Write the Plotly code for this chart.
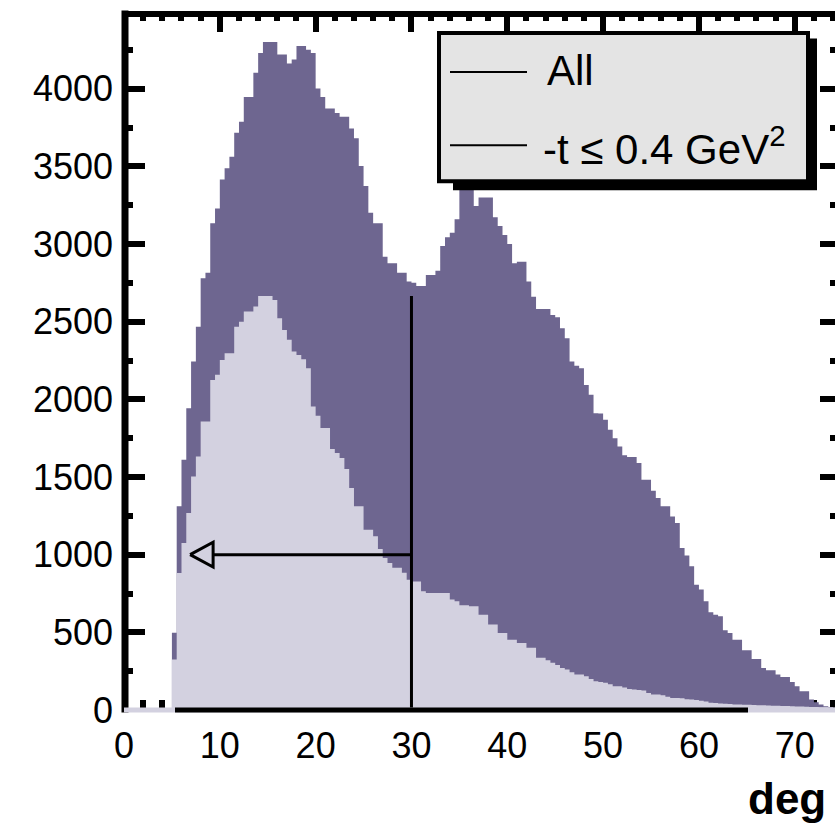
import plotly.graph_objects as go

# ---------------- data (0.5 degree bins starting at 0) ----------------
BIN_WIDTH = 0.5

all_counts = [
    0, 0, 0, 0, 0, 0, 0, 0, 0, 0,
    498, 1311, 1611, 1943, 2243, 2468, 2779, 2815, 3133, 3229,
    3416, 3487, 3561, 3716, 3787, 3947, 3947, 4102, 4230, 4301,
    4301, 4301, 4220, 4220, 4162, 4188, 4275, 4275, 4250, 4230,
    4001, 3947, 3872, 3872, 3844, 3819, 3819, 3744, 3680, 3502,
    3373, 3201, 3133, 3133, 2918, 2876, 2876, 2815, 2815, 2758,
    2751, 2730, 2730, 2801, 2801, 2828, 2987, 3043, 3073, 3159,
    3380, 3420, 3420, 3244, 3300, 3300, 3300, 3172, 3116, 3058,
    3000, 2876, 2886, 2886, 2758, 2661, 2582, 2582, 2582, 2543,
    2529, 2458, 2394, 2243, 2217, 2200, 2093, 2029, 1911, 1909,
    1868, 1804, 1750, 1697, 1640, 1628, 1628, 1590, 1482, 1482,
    1412, 1365, 1311, 1311, 1246, 1204, 1043, 994, 925, 807,
    775, 700, 629, 614, 604, 513, 496, 453, 453, 385,
    385, 329, 329, 271, 256, 256, 228, 213, 213, 180,
    153, 121, 121, 68, 50, 35, 24, 20, 15, 10,
]

low_t_counts = [
    0, 0, 0, 0, 0, 0, 0, 0, 0, 0,
    325, 882, 1075, 1268, 1504, 1632, 1857, 1857, 2125, 2158,
    2254, 2297, 2297, 2468, 2500, 2565, 2565, 2597, 2666, 2666,
    2666, 2640, 2522, 2447, 2383, 2308, 2286, 2258, 2200, 1954,
    1894, 1815, 1815, 1680, 1654, 1622, 1551, 1429, 1311, 1311,
    1161, 1161, 1118, 1037, 979, 947, 915, 915, 883, 839,
    828, 828, 764, 753, 753, 753, 753, 753, 711, 700,
    675, 675, 668, 668, 614, 614, 550, 550, 496, 496,
    453, 453, 432, 432, 400, 400, 336, 336, 320, 304,
    290, 271, 260, 243, 228, 228, 218, 200, 185, 180,
    175, 165, 153, 153, 145, 135, 132, 128, 125, 110,
    100, 100, 95, 85, 78, 78, 75, 70, 68, 65,
    60, 55, 46, 45, 42, 40, 38, 36, 35, 34,
    33, 32, 31, 30, 29, 28, 27, 26, 25, 24,
    23, 22, 21, 20, 19, 18, 17, 16, 15, 14,
]

x_tick_vals = [0, 10, 20, 30, 40, 50, 60, 70]
y_tick_vals = [0, 500, 1000, 1500, 2000, 2500, 3000, 3500, 4000]
legend_labels = ["All", "-t \u2264 0.4 GeV<sup>2</sup>"]
x_label = "deg"

cut_angle = 30          # vertical cut line
cut_line_top = 2665
arrow_level = 1000
arrow_tip = 6.9
arrow_base = 9.3
arrow_half = 80

X_RANGE = [0, 74.2]
Y_RANGE = [0, 4500]

DARK = "#6e6690"
LIGHT = "#d3d1e0"
FONT = "Liberation Sans, Arial, sans-serif"

# ---------------- figure geometry (pixels) ----------------
W, H = 835, 825
L, T, B, R = 124, 10.5, 114.5, 0
PW, PH = W - L - R, H - T - B


def px(xp):
    return (xp - L) / PW


def py(yp):
    return (H - B - yp) / PH


edges = [i * BIN_WIDTH for i in range(len(all_counts) + 1)]

fig = go.Figure()
fig.add_trace(go.Scatter(
    x=edges, y=all_counts + [all_counts[-1]], mode="lines",
    line=dict(shape="hv", width=0, color=DARK), fill="tozeroy",
    fillcolor=DARK, hoverinfo="skip", name="All"))
fig.add_trace(go.Scatter(
    x=edges, y=low_t_counts + [low_t_counts[-1]], mode="lines",
    line=dict(shape="hv", width=0, color=LIGHT), fill="tozeroy",
    fillcolor=LIGHT, hoverinfo="skip", name="-t <= 0.4 GeV2"))

# vertical cut line and arrow
fig.add_trace(go.Scatter(x=[cut_angle, cut_angle], y=[0, cut_line_top], mode="lines",
                         line=dict(color="black", width=3), hoverinfo="skip"))
fig.add_trace(go.Scatter(x=[cut_angle, arrow_base], y=[arrow_level, arrow_level], mode="lines",
                         line=dict(color="black", width=3), hoverinfo="skip"))
fig.add_trace(go.Scatter(
    x=[arrow_tip, arrow_base, arrow_base, arrow_tip],
    y=[arrow_level, arrow_level + arrow_half, arrow_level - arrow_half, arrow_level],
    mode="lines", line=dict(color="black", width=3), hoverinfo="skip"))

# invisible trace that anchors the mirrored (top / right) tick axes
fig.add_trace(go.Scatter(x=X_RANGE, y=Y_RANGE, xaxis="x2", yaxis="y2", mode="markers",
                         marker=dict(opacity=0), hoverinfo="skip"))


def ticks(major_len, minor_len, minor_dtick):
    return dict(
        ticks="inside", ticklen=major_len, tickwidth=6, tickcolor="black",
        showline=False, showgrid=False, zeroline=False,
        tickfont=dict(family=FONT, size=36, color="black"),
        minor=dict(dtick=minor_dtick, tick0=0, ticks="inside", ticklen=minor_len,
                   tickwidth=6, tickcolor="black", showgrid=False),
    )


fig.update_layout(
    xaxis=dict(range=X_RANGE, tickmode="array", tickvals=x_tick_vals,
               ticktext=[str(v) for v in x_tick_vals],
               ticklabelstandoff=11, layer="below traces", **ticks(21, 10, 2)),
    yaxis=dict(range=Y_RANGE, tickmode="array", tickvals=y_tick_vals,
               ticktext=[str(v) for v in y_tick_vals],
               ticklabelstandoff=10, layer="above traces", **ticks(21, 9, 250)),
    xaxis2=dict(range=X_RANGE, overlaying="x", side="top", anchor="y2",
                tickmode="array", tickvals=x_tick_vals, showticklabels=False,
                layer="above traces", **ticks(21, 9.5, 2)),
    yaxis2=dict(range=Y_RANGE, overlaying="y", side="right", anchor="x2",
                tickmode="array", tickvals=y_tick_vals, showticklabels=False,
                layer="above traces", **ticks(15, 5, 250)),
)

shapes = []
# frame lines
shapes.append(dict(type="line", xref="paper", yref="paper", x0=px(125), x1=px(125),
                   y0=py(713), y1=py(10), line=dict(color="black", width=7), layer="above"))
shapes.append(dict(type="line", xref="paper", yref="paper", x0=px(122), x1=px(W + 5),
                   y0=py(13.5), y1=py(13.5), line=dict(color="black", width=6), layer="above"))
shapes.append(dict(type="line", xref="paper", yref="paper", x0=px(124), x1=px(W + 5),
                   y0=py(710.5), y1=py(710.5), line=dict(color=LIGHT, width=5), layer="above"))
shapes.append(dict(type="line", xref="paper", yref="paper", x0=px(175), x1=px(748),
                   y0=py(710.5), y1=py(710.5), line=dict(color="black", width=5), layer="above"))
# legend box with shadow
shapes.append(dict(type="rect", xref="paper", yref="paper", x0=px(453), x1=px(817),
                   y0=py(190), y1=py(38), fillcolor="black", line=dict(width=0), layer="above"))
shapes.append(dict(type="rect", xref="paper", yref="paper", x0=px(439), x1=px(808),
                   y0=py(181), y1=py(32.5), fillcolor="#e4e4e4",
                   line=dict(color="black", width=4), layer="above"))
for yl in (71.7, 145):
    shapes.append(dict(type="line", xref="paper", yref="paper", x0=px(450), x1=px(527),
                       y0=py(yl), y1=py(yl), line=dict(color="black", width=2), layer="above"))

annotations = [
    dict(text=legend_labels[0], xref="paper", yref="paper", x=px(545), y=py(70),
         xanchor="left", yanchor="middle", showarrow=False,
         font=dict(family=FONT, size=42, color="black")),
    dict(text=legend_labels[1], xref="paper", yref="paper", x=px(541), y=py(146),
         xanchor="left", yanchor="middle", showarrow=False,
         font=dict(family=FONT, size=42, color="black")),
    dict(text="<b>" + x_label + "</b>", xref="paper", yref="paper", x=px(746), y=py(799),
         xanchor="left", yanchor="middle", showarrow=False,
         font=dict(family=FONT, size=44, color="black")),
]

fig.update_layout(
    width=W, height=H, autosize=False,
    margin=dict(l=L, r=R, t=T, b=B, pad=0, autoexpand=False),
    plot_bgcolor="white", paper_bgcolor="white",
    showlegend=False, shapes=shapes, annotations=annotations,
)

fig.write_html("out.html")
